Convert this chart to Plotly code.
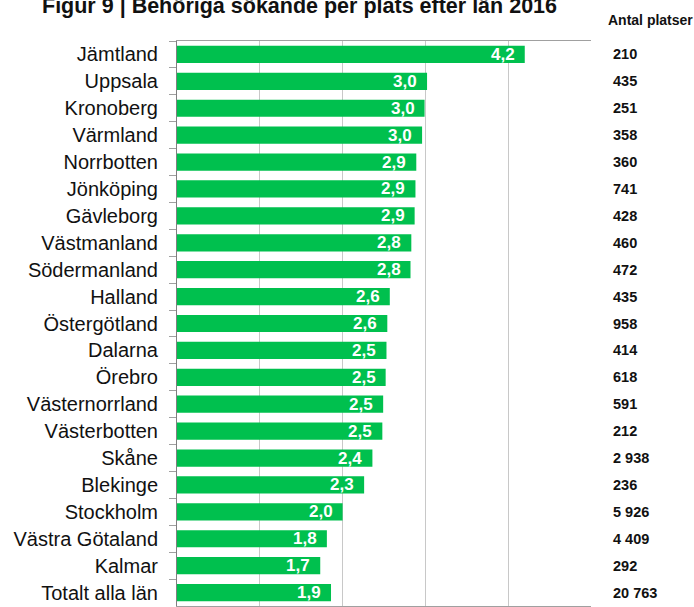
import plotly.graph_objects as go

regions = ["Jämtland", "Uppsala", "Kronoberg", "Värmland", "Norrbotten", "Jönköping",
           "Gävleborg", "Västmanland", "Södermanland", "Halland", "Östergötland", "Dalarna",
           "Örebro", "Västernorrland", "Västerbotten", "Skåne", "Blekinge", "Stockholm",
           "Västra Götaland", "Kalmar", "Totalt alla län"]
ratio = [4.2, 3.02, 2.99, 2.96, 2.89, 2.88, 2.87, 2.83, 2.82, 2.57, 2.54, 2.53, 2.52,
         2.49, 2.48, 2.36, 2.26, 2.0, 1.81, 1.73, 1.86]
ratio_labels = ["4,2", "3,0", "3,0", "3,0", "2,9", "2,9", "2,9", "2,8", "2,8", "2,6", "2,6",
                "2,5", "2,5", "2,5", "2,5", "2,4", "2,3", "2,0", "1,8", "1,7", "1,9"]
platser = [210, 435, 251, 358, 360, 741, 428, 460, 472, 435, 958, 414, 618, 591, 212,
           2938, 236, 5926, 4409, 292, 20763]
x_ticks = [0, 1, 2, 3, 4, 5]

GREEN = "#00C04E"
NARROW = "Liberation Sans Narrow, Arial Narrow, Liberation Sans, Arial"
fig = go.Figure()
fig.add_trace(go.Bar(
    y=regions, x=ratio, orientation="h",
    marker=dict(color=GREEN, line=dict(width=0)),
    width=0.64, hoverinfo="skip",
))

annotations = []
for r, v, lab in zip(regions, ratio, ratio_labels):
    annotations.append(dict(
        x=v, y=r, xref="x", yref="y", text=lab, showarrow=False,
        xanchor="right", yanchor="middle", xshift=-8,
        font=dict(family="Liberation Sans, Arial", size=17, color="white", weight="bold"),
    ))
for r, n in zip(regions, platser):
    txt = f"{n:,}".replace(",", " ")
    annotations.append(dict(
        x=1, y=r, xref="paper", yref="y", text=txt, showarrow=False,
        xanchor="left", yanchor="middle", xshift=20,
        font=dict(family=NARROW, size=14.5, color="#111111", weight="bold"),
    ))
annotations.append(dict(
    x=1, y=1, xref="paper", yref="paper", text="Antal platser", showarrow=False,
    xanchor="left", yanchor="middle", xshift=15, yshift=21,
    font=dict(family=NARROW, size=14, color="#111111", weight="bold"),
))
annotations.append(dict(
    x=0, y=1, xref="paper", yref="paper",
    text="Figur 9 | Behöriga sökande per plats efter län 2016", showarrow=False,
    xanchor="left", yanchor="middle", xshift=-137, yshift=35,
    font=dict(family="Liberation Sans, Arial", size=21.5, color="#111111", weight="bold"),
))

fig.update_layout(
    width=694, height=607,
    margin=dict(l=177, r=103, t=41, b=1),
    paper_bgcolor="white", plot_bgcolor="white",
    showlegend=False,
    annotations=annotations,
    xaxis=dict(range=[0, 5], tickvals=x_ticks, showticklabels=False,
               showgrid=True, gridcolor="#C8C8C8", gridwidth=1,
               zeroline=False, showline=True, linecolor="#A0A0A0", mirror=True),
    yaxis=dict(autorange="reversed", tickson="boundaries", ticks="outside",
               ticklen=7, tickcolor="#A0A0A0", showline=True, linecolor="#808080",
               ticklabelstandoff=14,
               tickfont=dict(family="Liberation Sans, Arial", size=20, color="#111111"),
               showgrid=False),
)

fig.write_html("out.html", config={"displayModeBar": False},
               post_script="document.body.style.margin='0';")
